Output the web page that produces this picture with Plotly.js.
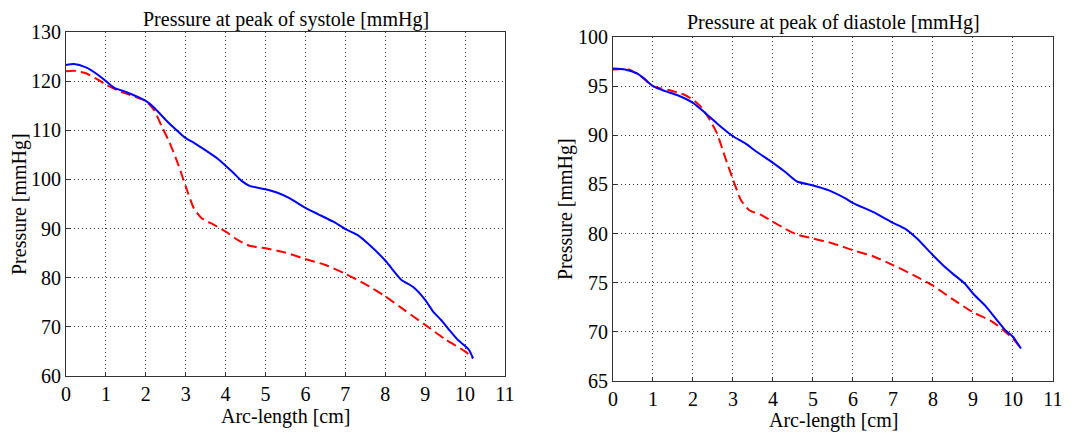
<!DOCTYPE html>
<html><head><meta charset="utf-8">
<script src="https://cdn.plot.ly/plotly-3.0.1.min.js"></script>
<style>html,body{margin:0;padding:0;background:#fff;}#chart{width:1089px;height:436px;}</style>
</head><body><div id="chart"></div>
<script>
// Systole
const sysBlueX = [0,0.2,0.5,0.8,1,1.2,1.5,1.8,2,2.2,2.5,2.8,3,3.2,3.5,3.8,4,4.2,4.4,4.6,5,5.3,5.6,6,6.3,6.7,7,7.3,7.6,8,8.4,8.7,9,9.2,9.4,9.6,9.8,10,10.1,10.2];
const sysBlueY = [123.3,123.5,122.8,121.3,120,118.7,117.8,116.8,116,114.7,112.1,109.8,108.4,107.5,105.9,104.2,102.8,101.3,99.7,98.7,98.0,97.3,96.2,94.2,93.0,91.4,89.9,88.7,86.7,83.5,79.6,78.1,75.5,73.1,71.4,69.4,67.5,66.1,65.3,63.6];
const sysRedX = [0,0.2,0.5,0.8,1,1.3,1.6,2,2.2,2.4,2.6,2.8,3.0,3.2,3.4,3.7,4.0,4.3,4.6,5.0,5.5,6.0,6.5,7.0,7.5,8,8.5,9,9.5,10,10.2];
const sysRedY = [122.0,122.1,121.6,120.3,119.3,118.1,117.2,115.9,114.2,110.8,107.4,103.3,98.6,94.2,92.1,90.8,89.4,87.7,86.5,86.0,85.1,83.8,82.6,80.8,78.7,76.2,73.3,70.4,67.5,65.0,63.6];
// Diastole
const diaBlueX = [0,0.3,0.6,0.8,1,1.3,1.6,2,2.3,2.6,3,3.3,3.6,4,4.3,4.6,5,5.4,5.8,6,6.5,7,7.3,7.6,8,8.3,8.5,8.8,9,9.3,9.6,9.8,10,10.2];
const diaBlueY = [96.8,96.7,96.3,95.7,95.0,94.5,94.1,93.3,92.3,91.2,89.9,89.2,88.3,87.2,86.3,85.3,84.9,84.4,83.6,83.1,82.2,81.1,80.5,79.5,77.8,76.6,75.9,74.9,73.9,72.7,71.2,70.2,69.5,68.3];
const diaRedX = [0,0.4,0.7,1,1.4,1.8,2,2.2,2.4,2.6,2.8,3.0,3.2,3.4,3.7,4,4.3,4.6,5,5.5,6,6.5,7,7.5,8,8.5,9,9.5,10,10.2];
const diaRedY = [96.7,96.7,96.0,95.0,94.6,94.1,93.6,92.9,91.7,90.2,87.8,85.5,83.4,82.4,81.9,81.2,80.5,79.9,79.5,79.0,78.3,77.7,76.8,75.8,74.7,73.3,72.0,71.0,69.3,68.3];

const xTicks = [0,1,2,3,4,5,6,7,8,9,10,11];
const sysTicks = [60,70,80,90,100,110,120,130];
const diaTicks = [65,70,75,80,85,90,95,100];

const FONT = 'Liberation Serif';
const blue = '#0000ff', red = '#ff0000';
function ln(x,y,xa,ya,c,dash){return {x:x,y:y,xaxis:xa,yaxis:ya,type:'scatter',mode:'lines',line:{color:c,width:2,dash:dash,shape:'spline',smoothing:0.6},hoverinfo:'skip'};}
const data = [
  ln(sysRedX,sysRedY,'x','y',red,'10px,5px'),
  ln(sysBlueX,sysBlueY,'x','y',blue,'solid'),
  ln(diaRedX,diaRedY,'x2','y2',red,'10px,5px'),
  ln(diaBlueX,diaBlueY,'x2','y2',blue,'solid')
];
function common(){return {showgrid:true,gridcolor:'#333',griddash:'1px,3px',gridwidth:1,zeroline:false,showline:true,mirror:true,linecolor:'#333',linewidth:1,ticks:'inside',ticklen:4,tickcolor:'#333',tickfont:{family:FONT,size:20,color:'#000'},fixedrange:true};}
function xax(dom,anchor){return Object.assign(common(),{domain:dom,anchor:anchor,range:[0,11],tickvals:xTicks,ticktext:xTicks.map(String)});}
function yax(dom,anchor,r,tv){return Object.assign(common(),{domain:dom,anchor:anchor,range:r,tickvals:tv,ticktext:tv.map(String)});}
const layout = {
  width:1089,height:436,margin:{l:0,r:0,t:0,b:0},showlegend:false,
  paper_bgcolor:'#fff',plot_bgcolor:'#fff',
  font:{family:FONT,color:'#000'},
  xaxis: xax([0.0606,0.4637],'y'),
  yaxis: yax([0.1376,0.9266],'x',[60,130],sysTicks),
  xaxis2: xax([0.5629,0.9669],'y2'),
  yaxis2: yax([0.1261,0.9151],'x2',[65,100],diaTicks),
  annotations:[
    {text:'Pressure at peak of systole [mmHg]',xref:'paper',yref:'paper',x:(66+505)/2/1089,y:1-19/436,xanchor:'center',yanchor:'middle',showarrow:false,font:{family:FONT,size:20}},
    {text:'Pressure at peak of diastole [mmHg]',xref:'paper',yref:'paper',x:(613+1053)/2/1089,y:1-23/436,xanchor:'center',yanchor:'middle',showarrow:false,font:{family:FONT,size:20}},
    {text:'Arc-length [cm]',xref:'paper',yref:'paper',x:(66+505)/2/1089,y:1-416/436,xanchor:'center',yanchor:'middle',showarrow:false,font:{family:FONT,size:20}},
    {text:'Arc-length [cm]',xref:'paper',yref:'paper',x:(613+1053)/2/1089,y:1-420/436,xanchor:'center',yanchor:'middle',showarrow:false,font:{family:FONT,size:20}},
    {text:'Pressure [mmHg]',xref:'paper',yref:'paper',x:19/1089,y:1-204/436,xanchor:'center',yanchor:'middle',textangle:-90,showarrow:false,font:{family:FONT,size:20}},
    {text:'Pressure [mmHg]',xref:'paper',yref:'paper',x:566/1089,y:1-209/436,xanchor:'center',yanchor:'middle',textangle:-90,showarrow:false,font:{family:FONT,size:20}}
  ]
};
Plotly.newPlot('chart',data,layout,{staticPlot:true,displayModeBar:false});
</script></body></html>
